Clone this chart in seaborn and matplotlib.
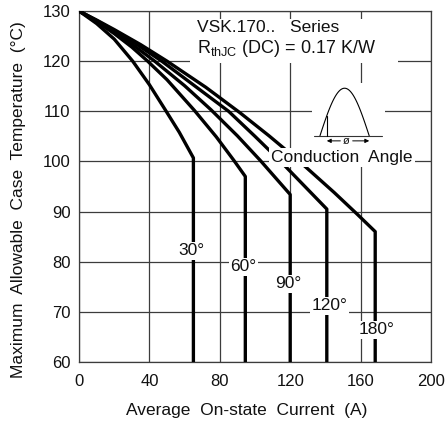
import numpy as np
import pandas as pd
import matplotlib
matplotlib.use("Agg")
import matplotlib.pyplot as plt
import seaborn as sns

sns.set_style("white")
plt.rcParams['font.family'] = ['Liberation Sans', 'DejaVu Sans']
plt.rcParams['mathtext.fontset'] = 'custom'
plt.rcParams['mathtext.rm'] = 'Liberation Sans'
plt.rcParams['mathtext.it'] = 'Liberation Sans'

# ---- data ----
angles = ["30°", "60°", "90°", "120°", "180°"]
cur_30 = [0, 10, 20, 30.5, 40, 49, 57, 65, 65]
tmp_30 = [130, 127.5, 124.4, 120, 115.3, 110.3, 105.8, 100.7, 60]
cur_60 = [0, 10, 20, 30, 39, 50, 65.5, 78, 88, 94.5, 94.5]
tmp_60 = [130, 127.9, 125.5, 122.8, 120, 116.3, 110.2, 104.9, 100.2, 97, 60]
cur_90 = [0, 10, 20, 30, 43, 60, 75, 90, 103, 120, 120]
tmp_90 = [130, 128, 125.8, 123.4, 120, 115.1, 110.3, 105.1, 100.2, 93.4, 60]
cur_120 = [0, 10, 20, 30, 47, 66, 85, 100, 114, 140.8, 140.8]
tmp_120 = [130, 128.1, 126.1, 124, 120, 115, 110, 105, 100.2, 90.5, 60]
cur_180 = [0, 10, 20, 35, 50, 72, 91.5, 108, 124, 145, 158, 168.3, 168.3]
tmp_180 = [130, 128.2, 126.3, 123.3, 120, 114.8, 109.7, 105.1, 100.4, 93.8, 89.5, 86, 60]

x_ticks = [0, 40, 80, 120, 160, 200]
y_ticks = [60, 70, 80, 90, 100, 110, 120, 130]

label_pos_x = [64, 93.4, 118.9, 142.2, 169.1]
label_pos_y = [82.2, 79.0, 75.6, 71.2, 66.4]

frames = []
for a, c, t in zip(angles,
                   [cur_30, cur_60, cur_90, cur_120, cur_180],
                   [tmp_30, tmp_60, tmp_90, tmp_120, tmp_180]):
    frames.append(pd.DataFrame({"current": c, "temp": t, "angle": a}))
df = pd.concat(frames, ignore_index=True)

fig = plt.figure(figsize=(4.45, 4.34), dpi=100)
ax = fig.add_axes([79/445, 1-362/434, 352/445, 351/434])

gridc = '#3c3c3c'
ax.set_axisbelow(True)
ax.grid(True, color=gridc, lw=0.9)
for s in ax.spines.values():
    s.set_color(gridc)
    s.set_linewidth(0.9)

for a in angles:
    sub = df[df.angle == a]
    sns.lineplot(data=sub, x="current", y="temp", sort=False, estimator=None,
                 color='black', lw=2.4, ax=ax, legend=False, zorder=3)

ax.set_xlim(0, 200)
ax.set_ylim(60, 130)
ax.set_xticks(x_ticks)
ax.set_yticks(y_ticks)
ax.tick_params(axis='both', length=0, labelsize=12, colors='#111111')
ax.tick_params(axis='x', pad=8.5)
ax.tick_params(axis='y', pad=6)

fs = 12.5
ax.set_xlabel("Average  On-state  Current  (A)", fontsize=fs, color='#111111')
ax.set_ylabel("Maximum  Allowable  Case  Temperature  (°C)", fontsize=fs, color='#111111')
ax.xaxis.set_label_coords(0.477, -0.118)
ax.yaxis.set_label_coords(-0.150, 0.4615)

# angle labels
for a, x, y in zip(angles, label_pos_x, label_pos_y):
    ax.text(x, y, a, ha='center', va='center', fontsize=fs, color='#111111',
            zorder=5, bbox=dict(facecolor='white', edgecolor='none', pad=1.0))

# title block
ax.add_patch(plt.Rectangle((63, 119.7), 118, 8.8, facecolor='white',
                           edgecolor='none', zorder=2.5))
ax.text(67, 126.8, "VSK.170..   Series", ha='left', va='center', fontsize=fs,
        color='#111111', zorder=5)
ax.text(67, 122.6, r"R$_{\mathregular{thJC}}$ (DC) = 0.17 K/W", ha='left',
        va='center', fontsize=fs + 0.5, color='#111111', zorder=5)

# conduction angle inset
ax.add_patch(plt.Rectangle((132.4, 102.7), 41.5, 12.9, facecolor='white',
                           edgecolor='none', zorder=2.5))
ax.text(149.4, 100.8, "Conduction  Angle", ha='center', va='center',
        fontsize=fs, color='#111111', zorder=5,
        bbox=dict(facecolor='white', edgecolor='none', pad=1.5))
base_t = 105.1
ph = np.linspace(0, np.pi, 80)
px = 136.9 + (164.9 - 136.9) * ph / np.pi
py = base_t + (114.6 - base_t) * np.sin(ph)
ax.plot(px, py, color='black', lw=0.8, zorder=4)
ax.plot([133.5, 172.0], [base_t, base_t], color='#333333', lw=0.8, zorder=4)
xv = 140.8
yv = base_t + (114.6 - base_t) * np.sin(np.pi * (xv - 136.9) / (164.9 - 136.9))
ax.plot([xv, xv], [base_t, yv], color='black', lw=0.8, zorder=4)
ax.annotate("", xy=(xv, 104.1), xytext=(148.5, 104.1),
            arrowprops=dict(arrowstyle='-|>', lw=0.7, color='black',
                            mutation_scale=6, shrinkA=0, shrinkB=0), zorder=4)
ax.annotate("", xy=(164.9, 104.1), xytext=(155.5, 104.1),
            arrowprops=dict(arrowstyle='-|>', lw=0.7, color='black',
                            mutation_scale=6, shrinkA=0, shrinkB=0), zorder=4)
ax.text(152.0, 104.1, "ø", ha='center', va='center', fontsize=8, color='#111111',
        zorder=5)

fig.savefig("out.png", dpi=100)
